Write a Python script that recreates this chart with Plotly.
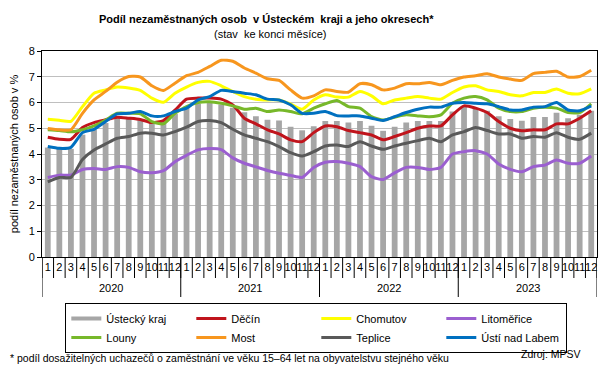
import plotly.graph_objects as go

years = ["2020", "2021", "2022", "2023"]
months = [str(m) for m in range(1, 13)] * 4

ustecky_kraj = [4.25, 4.2, 4.2, 4.75, 4.95, 5.2, 5.4, 5.38, 5.33, 5.23, 5.3, 5.55,
                5.85, 5.95, 6.02, 5.92, 5.8, 5.62, 5.47, 5.33, 5.3, 5.06, 4.92, 5.08,
                5.28, 5.28, 5.22, 5.28, 5.1, 4.9, 5.06, 5.22, 5.28, 5.28, 5.28, 5.65,
                5.85, 5.77, 5.68, 5.47, 5.36, 5.29, 5.44, 5.44, 5.6, 5.39, 5.52, 5.68]
decin = [4.65, 4.57, 4.57, 5.03, 5.22, 5.33, 5.43, 5.39, 5.34, 5.22, 5.3, 5.7,
         6.13, 6.17, 6.17, 6.13, 5.91, 5.39, 5.17, 4.94, 4.78, 4.55, 4.48, 4.83,
         5.09, 5.06, 4.91, 4.83, 4.74, 4.55, 4.68, 4.83, 5.0, 5.09, 5.09, 5.52,
         5.87, 5.78, 5.61, 5.26, 5.0, 4.9, 4.94, 4.94, 5.17, 5.17, 5.39, 5.68]
chomutov = [5.35, 5.31, 5.27, 5.84, 6.36, 6.49, 6.6, 6.56, 6.47, 6.17, 6.01, 6.36,
            6.6, 6.78, 6.82, 6.65, 6.43, 6.23, 6.13, 6.1, 6.1, 5.94, 5.74, 6.1,
            6.3, 6.21, 6.21, 6.43, 6.26, 5.95, 6.1, 6.17, 6.23, 6.17, 6.13, 6.39,
            6.6, 6.65, 6.49, 6.43, 6.3, 6.26, 6.39, 6.39, 6.52, 6.36, 6.34, 6.53]
litomerice = [3.09, 3.18, 3.18, 3.4, 3.44, 3.4, 3.51, 3.48, 3.31, 3.27, 3.35, 3.7,
              3.95, 4.16, 4.21, 4.17, 3.85, 3.64, 3.5, 3.36, 3.25, 3.17, 3.09, 3.48,
              3.68, 3.71, 3.64, 3.51, 3.12, 3.01, 3.27, 3.48, 3.48, 3.4, 3.48, 4.0,
              4.09, 4.13, 4.0, 3.61, 3.4, 3.31, 3.51, 3.57, 3.77, 3.64, 3.64, 3.92]
louny = [4.94, 4.91, 4.86, 4.94, 5.09, 5.32, 5.58, 5.58, 5.56, 5.26, 5.17, 5.58,
         5.84, 6.0, 6.03, 5.97, 5.87, 5.74, 5.78, 5.65, 5.71, 5.65, 5.56, 5.78,
         5.95, 6.08, 5.84, 5.78, 5.45, 5.32, 5.43, 5.52, 5.48, 5.45, 5.52, 5.97,
         6.17, 6.23, 6.1, 5.78, 5.65, 5.65, 5.78, 5.82, 5.78, 5.61, 5.61, 5.95]
most = [4.99, 4.94, 4.94, 5.58, 6.1, 6.43, 6.79, 7.01, 6.99, 6.65, 6.47, 6.75,
        7.04, 7.17, 7.4, 7.64, 7.6, 7.34, 7.14, 6.92, 6.86, 6.49, 6.17, 6.26,
        6.49, 6.43, 6.4, 6.73, 6.69, 6.49, 6.56, 6.73, 6.73, 6.78, 6.69, 6.86,
        6.99, 7.04, 7.12, 6.99, 6.91, 6.86, 7.12, 7.17, 7.21, 6.99, 7.01, 7.25]
teplice = [2.92, 3.09, 3.09, 3.79, 4.16, 4.39, 4.61, 4.68, 4.81, 4.81, 4.74, 4.87,
           5.04, 5.26, 5.3, 5.22, 4.96, 4.74, 4.61, 4.48, 4.29, 4.05, 3.92, 4.09,
           4.31, 4.35, 4.29, 4.48, 4.31, 4.18, 4.31, 4.42, 4.52, 4.61, 4.48, 4.74,
           4.87, 5.03, 4.91, 4.78, 4.78, 4.61, 4.68, 4.65, 4.83, 4.65, 4.57, 4.81]
usti = [4.29, 4.22, 4.26, 4.83, 4.96, 5.26, 5.56, 5.58, 5.65, 5.48, 5.48, 5.65,
        5.78, 6.1, 6.23, 6.47, 6.43, 6.36, 6.3, 6.13, 6.1, 5.91, 5.58, 5.58,
        5.65, 5.49, 5.48, 5.48, 5.39, 5.3, 5.45, 5.61, 5.74, 5.82, 5.82, 5.97,
        6.0, 5.97, 5.95, 5.84, 5.71, 5.71, 5.82, 5.84, 6.0, 5.71, 5.68, 5.87]

FONT = "Liberation Sans, Arial, sans-serif"
n = len(months)
xpos = list(range(n))
per_year = n // len(years)
month_bounds = [i - 0.5 for i in range(n + 1)]
year_bounds = [i * per_year - 0.5 for i in range(len(years) + 1)]
year_centers = [i * per_year + (per_year - 1) / 2 for i in range(len(years))]
xrange_ = [-0.5, n - 0.5]

PLOT_H = 206  # plot-area height in px (362 - 43 - 113)

fig = go.Figure()
fig.add_trace(go.Bar(x=xpos, y=ustecky_kraj, name="Ústecký kraj", marker_color="#A6A6A6",
                     marker_line_width=0, showlegend=False, legendgroup="kraj"))

lines = [
    ("Děčín", decin, "#C0141C"),
    ("Chomutov", chomutov, "#FFFF00"),
    ("Litoměřice", litomerice, "#9B5FD0"),
    ("Louny", louny, "#77B82A"),
    ("Most", most, "#F7961E"),
    ("Teplice", teplice, "#595959"),
    ("Ústí nad Labem", usti, "#0070C0"),
]

# legend proxy for the bar series (grey line symbol like the reference)
fig.add_trace(go.Scatter(x=[None], y=[None], mode="lines", name="Ústecký kraj",
                         line=dict(color="#A6A6A6", width=4), legendgroup="kraj",
                         hoverinfo="skip"))
for name, vals, col in lines:
    fig.add_trace(go.Scatter(x=xpos, y=vals, mode="lines", name=name,
                             line=dict(color=col, width=3, shape="spline", smoothing=0.6)))

annotations = [
    dict(text="<b>Podíl nezaměstnaných osob  v Ústeckém  kraji a jeho okresech*</b>",
         xref="paper", yref="paper", x=0.404, y=1.157, xanchor="center", yanchor="middle",
         showarrow=False, font=dict(family=FONT, size=11)),
    dict(text="(stav  ke konci měsíce)", xref="paper", yref="paper", x=0.411, y=1.081,
         xanchor="center", yanchor="middle", showarrow=False,
         font=dict(family=FONT, size=11)),
    dict(text="* podíl dosažitelných uchazečů o zaměstnání ve věku 15–64 let na obyvatelstvu stejného věku",
         xref="paper", yref="paper", x=-0.061, y=-0.488, xanchor="left", yanchor="middle",
         showarrow=False, font=dict(family=FONT, size=10.5)),
    dict(text="Zdroj: MPSV", xref="paper", yref="paper", x=0.975, y=-0.47,
         xanchor="right", yanchor="middle", showarrow=False,
         font=dict(family=FONT, size=10.5)),
]
for yr, cx in zip(years, year_centers):
    annotations.append(dict(text=yr, xref="x", yref="paper", x=cx, y=-0.152,
                            xanchor="center", yanchor="middle", showarrow=False,
                            font=dict(family=FONT, size=11)))

# category separators below the axis (months short, years long)
shapes = []
for b in month_bounds:
    shapes.append(dict(type="line", xref="x", yref="paper", x0=b, x1=b, y0=0,
                       y1=-21 / PLOT_H, line=dict(color="black", width=1)))
for b in year_bounds:
    shapes.append(dict(type="line", xref="x", yref="paper", x0=b, x1=b, y0=0,
                       y1=-40 / PLOT_H, line=dict(color="black", width=1)))

fig.update_layout(
    width=598, height=362,
    margin=dict(l=34, r=9, t=43, b=113, autoexpand=False),
    paper_bgcolor="white", plot_bgcolor="white",
    font=dict(family=FONT, size=11, color="black"),
    bargap=0.5,
    showlegend=True,
    legend=dict(orientation="h", x=0.042, y=-0.2233, xanchor="left", yanchor="top",
                bordercolor="black", borderwidth=1, entrywidth=80,
                font=dict(family=FONT, size=11), itemwidth=30,
                traceorder="normal"),
    xaxis=dict(range=xrange_, tickmode="array", tickvals=xpos, ticktext=months,
               tickangle=0, ticks="", showline=True, linecolor="black", linewidth=1,
               mirror=True, showgrid=False, zeroline=False,
               tickfont=dict(family=FONT, size=11)),
    yaxis=dict(range=[0, 8], dtick=1, showline=True, linecolor="black", linewidth=1,
               mirror=True, ticks="outside", ticklen=4, tickcolor="black",
               showgrid=True, gridcolor="#BFBFBF", gridwidth=1, zeroline=False,
               tickfont=dict(family=FONT, size=11),
               title=dict(text="podíl nezaměstnaných osob v %",
                          font=dict(family=FONT, size=11), standoff=15)),
    annotations=annotations,
    shapes=shapes,
)

fig.write_html("out.html")
